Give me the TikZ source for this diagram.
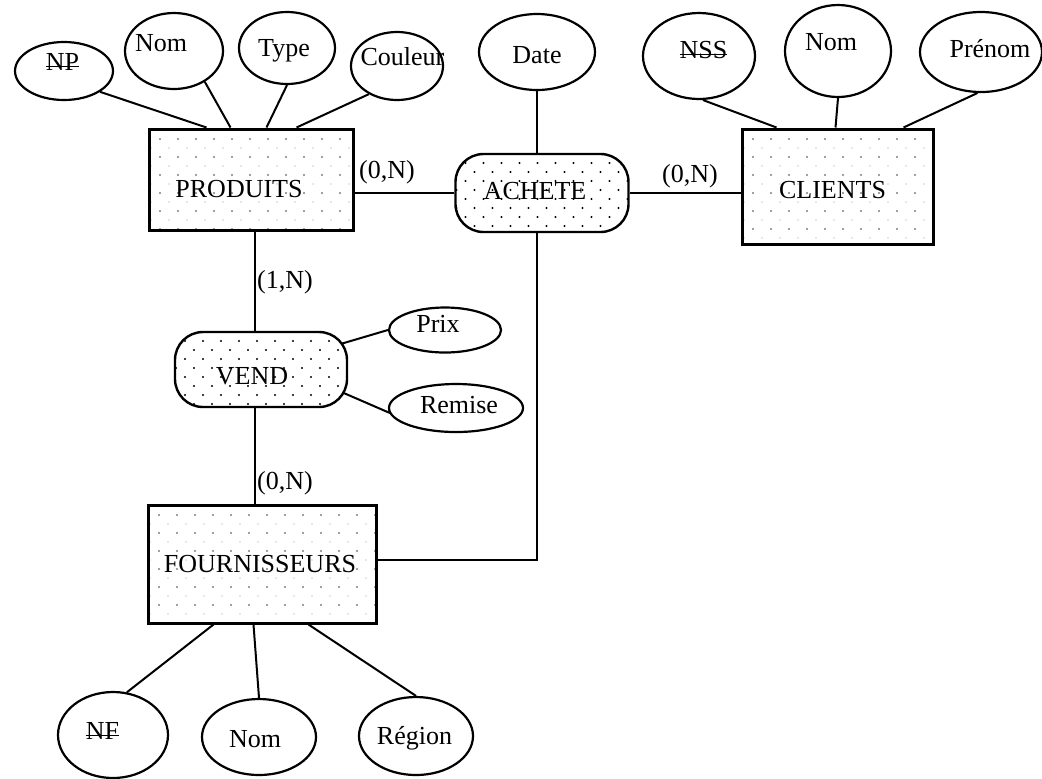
\documentclass[tikz,border=0pt]{standalone}
\usepackage{fontspec}
\setmainfont{Liberation Serif}
\usetikzlibrary{shapes.geometric,calc}
\newcommand{\cle}[1]{\setbox0\hbox{#1}\rlap{\rule[0.12em]{\wd0}{0.7pt}}\box0}
\newcommand{\tx}[3]{\makebox[0pt]{\kern#1\raisebox{\dimexpr#2-0.33em\relax}[0pt][0pt]{#3}}}
\begin{document}
\begin{tikzpicture}[x=0.5pt,y=-0.5pt,
  every node/.style={font=\fontsize{13}{15}\selectfont},
  attr/.style={draw, ellipse, line width=1.1pt, inner sep=0pt},
  entity/.style={draw, rectangle, line width=1.5pt, inner sep=0pt,
    path picture={
      \foreach \i in {0,...,13}{\foreach \j in {0,...,6}{
        \fill[black!50] ($(path picture bounding box.north west)+(11+18*\i,10+18*\j)$) circle[radius=0.6pt];
        \fill[black!18] ($(path picture bounding box.north west)+(2+18*\i,19+18*\j)$) circle[radius=0.45pt];
      }}}},
  relation/.style={draw, rectangle, rounded corners=14pt, line width=1.2pt, inner sep=0pt,
    path picture={
      \foreach \i in {0,...,10}{\foreach \j in {0,...,4}{
        \fill[black] ($(path picture bounding box.north west)+(10+18*\i,9+18*\j)$) circle[radius=0.6pt];
        \fill[black] ($(path picture bounding box.north west)+(1+18*\i,18+18*\j)$) circle[radius=0.6pt];
      }}}},
  link/.style={line width=1pt},
  card/.style={inner sep=0pt}]
\path[use as bounding box, fill=white] (0,0) rectangle (1042,778);

% entities
\node[entity, minimum width=102pt, minimum height=50.5pt] (PRODUITS) at (251,179.5) {\tx{-12pt}{-4.75pt}{PRODUITS}};
\node[entity, minimum width=95.5pt, minimum height=57.5pt] (CLIENTS) at (837.5,186.5) {\tx{-5pt}{-1.5pt}{CLIENTS}};
\node[entity, minimum width=114pt, minimum height=59pt] (FOURN) at (262,564) {\tx{-2pt}{0pt}{FOURNISSEURS}};

% relations
\node[relation, minimum width=86.5pt, minimum height=39pt] (ACHETE) at (542,193) {\tx{-7pt}{1pt}{ACHETE}};
\node[relation, minimum width=86pt, minimum height=37.5pt] (VEND) at (261,369.5) {\tx{-9pt}{-3pt}{VEND}};

% attributes
\node[attr, minimum width=49pt, minimum height=29pt] (NP) at (64,71) {\tx{-1.5pt}{4.5pt}{\cle{NP}}};
\node[attr, minimum width=49pt, minimum height=38pt] (NomP) at (174,51) {\tx{-13pt}{4pt}{Nom}};
\node[attr, minimum width=48pt, minimum height=36pt] (Type) at (287,48) {\tx{-3pt}{0pt}{Type}};
\node[attr, minimum width=46pt, minimum height=34pt] (Couleur) at (397,66) {\tx{5.5pt}{4.5pt}{Couleur}};
\node[attr, minimum width=58pt, minimum height=38pt] (Date) at (537,52) {\tx{0pt}{-1.5pt}{Date}};
\node[attr, minimum width=56pt, minimum height=43pt] (NSS) at (699,56) {\tx{4.5pt}{3pt}{\cle{NSS}}};
\node[attr, minimum width=53pt, minimum height=46pt] (NomC) at (838,51) {\tx{-7pt}{4.5pt}{Nom}};
\node[attr, minimum width=61pt, minimum height=40pt] (Prenom) at (981,52) {\tx{9pt}{1.5pt}{Prénom}};
\node[attr, minimum width=56pt, minimum height=22.5pt] (Prix) at (445,330) {\tx{-7pt}{3pt}{Prix}};
\node[attr, minimum width=67pt, minimum height=24pt] (Remise) at (456,408) {\tx{3pt}{1.5pt}{Remise}};
\node[attr, minimum width=55pt, minimum height=43pt] (NF) at (113,735) {\tx{-10.5pt}{2pt}{\cle{NF}}};
\node[attr, minimum width=57pt, minimum height=38pt] (NomF) at (259,737) {\tx{-4pt}{-1pt}{Nom}};
\node[attr, minimum width=57pt, minimum height=39pt] (Region) at (416,736) {\tx{-1.5pt}{0pt}{Région}};

% cardinalities
\node[card] (c1) at (387,172) {(0,N)};
\node[card] (c2) at (690,176) {(0,N)};
\node[card] (c3) at (285,282) {(1,N)};
\node[card] (c4) at (285,483) {(0,N)};

% relation links
\draw[link] (ACHETE.west) -- (ACHETE.west -| PRODUITS.east);
\draw[link] (ACHETE.east) -- (ACHETE.east -| CLIENTS.west);
\draw[link] (Date.south) -- (Date.south |- ACHETE.north);
\draw[link] ($(ACHETE.south)+(-5,0)$) |- ($(FOURN.east)+(0,-4)$);
\draw[link] ($(PRODUITS.south)+(4,0)$) -- ($(VEND.north)+(-6,0)$);
\draw[link] ($(VEND.south)+(-6,0)$) -- ($(FOURN.north)+(-7,0)$);
\draw[link] ($(VEND.north east)+(-7,13)$) -- (Prix.west);
\draw[link] ($(VEND.south east)+(-4,-15)$) -- ($(Remise.west)+(2,5)$);

% attribute links
\draw[link] (NP.-30) -- ($(PRODUITS.north west)+(59,0)$);
\draw[link] (NomP.-45) -- ($(PRODUITS.north west)+(83,0)$);
\draw[link] (Type.-90) -- ($(PRODUITS.north west)+(119,0)$);
\draw[link] (Couleur.-135) -- ($(PRODUITS.north west)+(149,0)$);
\draw[link] (NSS.-85) -- ($(CLIENTS.north west)+(36,0)$);
\draw[link] (NomC.-90) -- ($(CLIENTS.north west)+(95,0)$);
\draw[link] (Prenom.-95) -- ($(CLIENTS.north west)+(163,0)$);
\draw[link] (NF.72) -- ($(FOURN.south west)+(67,0)$);
\draw[link] (NomF.90) -- ($(FOURN.south west)+(107,0)$);
\draw[link] (Region.90) -- ($(FOURN.south west)+(162,0)$);
\end{tikzpicture}
\end{document}
